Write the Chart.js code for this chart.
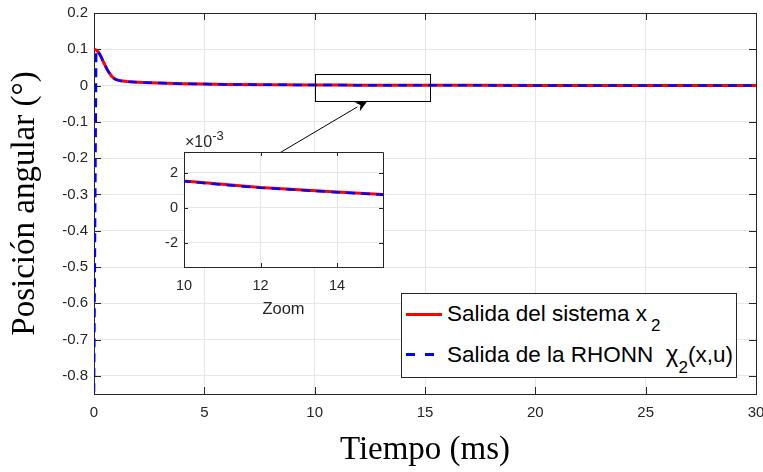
<!DOCTYPE html>
<html>
<head>
<meta charset="utf-8">
<script src="https://cdn.jsdelivr.net/npm/chart.js@4/dist/chart.umd.min.js"></script>
<style>
  html, body { margin: 0; padding: 0; background: #fff; }
  #wrap { position: relative; width: 763px; height: 472px; overflow: hidden; }
  #main { position: absolute; left: 0; top: 0; }
  #inset { position: absolute; left: 130px; top: 125px; }
  #legend {
    position: absolute; left: 401px; top: 293px; width: 334px; height: 83px;
    border: 1px solid #262626; background: #fff;
    font-family: "Liberation Sans", Arial, sans-serif; font-size: 22.5px; color: #000;
  }
  #legend .row { position: absolute; left: 45px; height: 24px; line-height: 24px; white-space: pre; }
  #legend .sub { font-size: 17px; position: relative; }
  #legend .swatch { position: absolute; left: 4px; width: 36px; height: 3px; }
</style>
</head>
<body>
<div id="wrap">
  <canvas id="main" width="763" height="472"></canvas>
  <canvas id="inset" width="260" height="200"></canvas>
  <div id="legend">
    <div class="swatch" style="top:19px;background:#ff0000;"></div>
    <div class="row" style="top:8px;">Salida del sistema x<span class="sub" style="top:10px;margin-left:4px;">2</span></div>
    <div class="swatch" style="top:59px;height:2.5px;background:linear-gradient(90deg,#0000ff 0 9px,transparent 9px 19px,#0000ff 19px 28px,transparent 28px);"></div>
    <div class="row" style="top:48px;">Salida de la RHONN  <span style="font-size:24px;">χ</span><span class="sub" style="top:11px;">2</span>(x,u)</div>
  </div>
</div>
<script>
// tiempo (ms) y posición angular (°)
const timeMs = [0, 0.1, 0.2, 0.3, 0.4, 0.5, 0.6, 0.7, 0.8, 0.9, 1.0, 1.2, 1.5, 2, 2.5, 3, 4, 5, 6, 8, 10, 11, 12, 13, 14, 15.2, 17, 20, 25, 30];
const sistemaX2 = [0.1, 0.098, 0.092, 0.082, 0.069, 0.056, 0.044, 0.034, 0.026, 0.020, 0.0165, 0.0130, 0.0110, 0.0092, 0.0080, 0.0068, 0.0052, 0.0040, 0.0032, 0.0022, 0.00154, 0.00135, 0.00116, 0.00103, 0.00090, 0.00076, 0.0006, 0.0004, 0.0002, 0.0001];
const rhonnX2 = [-0.845, 0.097, 0.092, 0.082, 0.069, 0.056, 0.044, 0.034, 0.026, 0.020, 0.0165, 0.0130, 0.0110, 0.0092, 0.0080, 0.0068, 0.0052, 0.0040, 0.0032, 0.0022, 0.00152, 0.00133, 0.00115, 0.00102, 0.00089, 0.00075, 0.0006, 0.0004, 0.0002, 0.0001];

const xTicks = [0, 5, 10, 15, 20, 25, 30];
const yTicks = [0.2, 0.1, 0, -0.1, -0.2, -0.3, -0.4, -0.5, -0.6, -0.7, -0.8];
const insetXTicks = [10, 12, 14];
const insetYTicks = [-2, 0, 2]; // x10^-3

const zoomRange = [10, 15.2];

const AX = '#262626';
const GRID = '#e6e6e6';
const SANS = '"Liberation Sans", Arial, sans-serif';
const SERIF = '"Liberation Serif", "Times New Roman", serif';

function pts(ys, k) {
  return timeMs.map((t, i) => ({ x: t, y: ys[i] * k }));
}

// box + inward ticks on all four sides, like matlab
function boxPlugin(tickLen) {
  return {
    id: 'box',
    beforeDraw(chart) {
      const a = chart.chartArea, c = chart.ctx;
      c.save();
      c.fillStyle = '#fff';
      c.fillRect(a.left, a.top, a.right - a.left, a.bottom - a.top);
      c.restore();
    },
    beforeDatasetsDraw(chart) {
      const a = chart.chartArea, c = chart.ctx;
      const xs = chart.scales.x, ys = chart.scales.y;
      c.save();
      c.strokeStyle = AX;
      c.lineWidth = 1;
      c.beginPath();
      xs.ticks.forEach(t => {
        const px = Math.round(xs.getPixelForValue(t.value)) + 0.5;
        c.moveTo(px, a.bottom); c.lineTo(px, a.bottom - tickLen);
        c.moveTo(px, a.top); c.lineTo(px, a.top + tickLen);
      });
      ys.ticks.forEach(t => {
        const py = Math.round(ys.getPixelForValue(t.value)) + 0.5;
        c.moveTo(a.left, py); c.lineTo(a.left + tickLen, py);
        c.moveTo(a.right, py); c.lineTo(a.right - tickLen, py);
      });
      c.stroke();
      c.beginPath();
      c.rect(Math.round(a.left) + 0.5, Math.round(a.top) + 0.5, Math.round(a.right - a.left), Math.round(a.bottom - a.top));
      c.stroke();
      c.restore();
    }
  };
}

const zoomMark = {
  id: 'zoomMark',
  afterDatasetsDraw(chart) {
    const xs = chart.scales.x, ys = chart.scales.y, c = chart.ctx;
    const x0 = xs.getPixelForValue(zoomRange[0]), x1 = xs.getPixelForValue(zoomRange[1]);
    const y0 = ys.getPixelForValue(0.033), y1 = ys.getPixelForValue(-0.041);
    c.save();
    c.strokeStyle = '#000';
    c.lineWidth = 1;
    c.strokeRect(Math.round(x0) + 0.5, Math.round(y0) + 0.5, Math.round(x1 - x0), Math.round(y1 - y0));
    // arrow from inset to box
    const tx = xs.getPixelForValue(8.43), ty = ys.getPixelForValue(-0.185);
    const hx = xs.getPixelForValue(12.4), hy = ys.getPixelForValue(-0.042);
    const ang = Math.atan2(hy - ty, hx - tx);
    const L = 12, W = 5;
    const bx = hx - L * Math.cos(ang), by = hy - L * Math.sin(ang);
    c.beginPath();
    c.moveTo(tx, ty); c.lineTo(bx, by);
    c.stroke();
    c.fillStyle = '#000';
    c.beginPath();
    c.moveTo(hx, hy);
    c.lineTo(bx + W * Math.sin(ang), by - W * Math.cos(ang));
    c.lineTo(hx - 0.7 * L * Math.cos(ang), hy - 0.7 * L * Math.sin(ang));
    c.lineTo(bx - W * Math.sin(ang), by + W * Math.cos(ang));
    c.closePath();
    c.fill();
    c.restore();
  }
};

const exponentLabel = {
  id: 'exponentLabel',
  afterDraw(chart) {
    const a = chart.chartArea, c = chart.ctx;
    c.save();
    c.fillStyle = AX;
    c.textBaseline = 'alphabetic';
    c.font = '16px ' + SANS;
    c.fillText('\u00d710', a.left + 1, a.top - 5);
    const w = c.measureText('\u00d710').width;
    c.font = '13px ' + SANS;
    c.fillText('-3', a.left + 1 + w, a.top - 12);
    c.restore();
  }
};

function lineSets(k) {
  return [
    { label: 'Salida del sistema x2', data: pts(sistemaX2, k), borderColor: '#ff0000', borderWidth: 3, pointRadius: 0, tension: 0, order: 2 },
    { label: 'Salida de la RHONN', data: pts(rhonnX2, k), borderColor: '#0000ff', borderWidth: 2.5, borderDash: [9, 6], pointRadius: 0, tension: 0, order: 1 }
  ];
}

function axis(opts) {
  return {
    type: 'linear',
    min: opts.min, max: opts.max,
    afterBuildTicks: s => { s.ticks = opts.ticks.map(v => ({ value: v })); },
    afterFit: opts.fit,
    grid: { color: GRID, lineWidth: 1, drawTicks: false },
    border: { display: true, color: AX, width: 1 },
    ticks: { color: AX, font: { family: SANS, size: opts.size }, padding: opts.pad, autoSkip: false, maxRotation: 0, callback: v => String(v) },
    title: opts.title
  };
}

Chart.defaults.animation = false;

new Chart(document.getElementById('main'), {
  type: 'line',
  data: { datasets: lineSets(1) },
  options: {
    responsive: false,
    devicePixelRatio: 1,
    layout: { padding: { top: 13, right: 7, left: 0, bottom: 0 } },
    plugins: { legend: { display: false }, tooltip: { enabled: false } },
    scales: {
      x: axis({ min: 0, max: 30, ticks: xTicks, pad: 10, size: 15,
        fit: s => { s.height = 78; s.paddingLeft = 0; s.paddingRight = 0; },
        title: { display: true, text: 'Tiempo (ms)', color: '#000', font: { family: SERIF, size: 33 }, padding: { top: 0, bottom: 2 } } }),
      y: axis({ min: -0.85, max: 0.2, ticks: yTicks, pad: 6, size: 15,
        fit: s => { s.width = 94; s.paddingTop = 0; s.paddingBottom = 0; },
        title: { display: true, text: 'Posición angular (°)', color: '#000', font: { family: SERIF, size: 33 }, padding: { top: 6, bottom: 0 } } })
    }
  },
  plugins: [boxPlugin(7), zoomMark]
});

new Chart(document.getElementById('inset'), {
  type: 'line',
  data: { datasets: lineSets(1000) },
  options: {
    responsive: false,
    devicePixelRatio: 1,
    layout: { padding: { top: 27, right: 7, left: 0, bottom: 0 } },
    plugins: { legend: { display: false }, tooltip: { enabled: false } },
    scales: {
      x: axis({ min: zoomRange[0], max: zoomRange[1], ticks: insetXTicks, pad: 10, size: 14.5,
        fit: s => { s.height = 58; s.paddingLeft = 0; s.paddingRight = 0; },
        title: { display: true, text: 'Zoom', color: AX, font: { family: SANS, size: 16.5 }, padding: { top: 0, bottom: 6 } } }),
      y: axis({ min: -3.4, max: 3.2, ticks: insetYTicks, pad: 6, size: 14.5,
        fit: s => { s.width = 54; s.paddingTop = 0; s.paddingBottom = 0; } })
    }
  },
  plugins: [boxPlugin(4), exponentLabel]
});
</script>
</body>
</html>
